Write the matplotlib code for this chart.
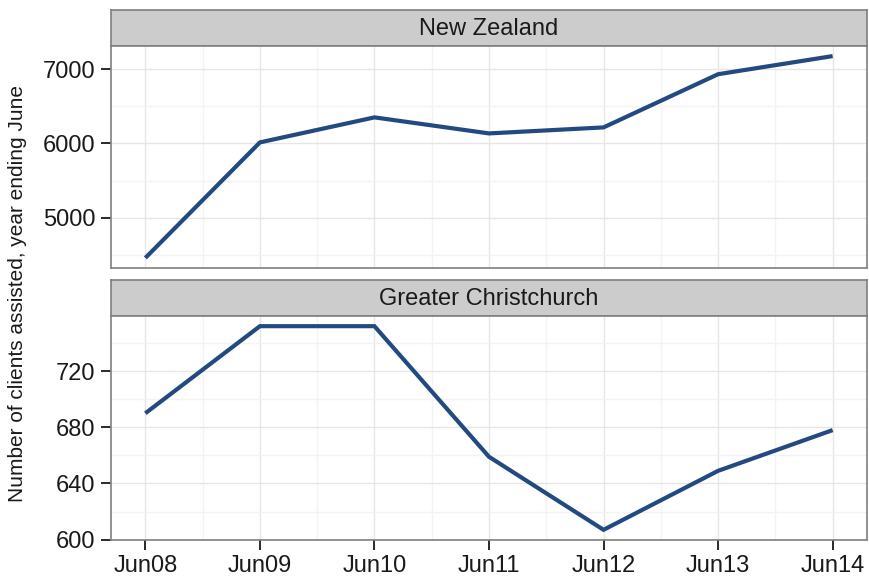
import matplotlib
matplotlib.use("Agg")
import matplotlib.pyplot as plt
from matplotlib.ticker import FixedLocator

plt.rcParams['font.family'] = ['Liberation Sans', 'DejaVu Sans']

# Year ending June
periods = ["Jun08", "Jun09", "Jun10", "Jun11", "Jun12", "Jun13", "Jun14"]
nz_clients = [4459, 6014, 6351, 6135, 6216, 6932, 7176]
chch_clients = [690, 752, 752, 659, 607, 649, 678]

nz_ticks = [5000, 6000, 7000]
nz_minor = [4500, 5500, 6500]
chch_ticks = [600, 640, 680, 720]
chch_minor = [620, 660, 700, 740]

LINE = "#234A80"
BORDER = "#7F7F7F"
STRIP = "#CCCCCC"
TEXT = "#1A1A1A"

W, H = 870, 583
fig = plt.figure(figsize=(W / 100, H / 100), dpi=100)


def frac(x0, y0, x1, y1):
    return [x0 / W, 1 - y1 / H, (x1 - x0) / W, (y1 - y0) / H]


def strip(box, label):
    s = fig.add_axes(frac(*box))
    s.set_facecolor(STRIP)
    s.set_xticks([])
    s.set_yticks([])
    for sp in s.spines.values():
        sp.set_color(BORDER)
        sp.set_linewidth(1.2)
    s.text(0.5, 0.47, label, ha="center", va="center", fontsize=17,
           color=TEXT, transform=s.transAxes)


def panel(box, values, ticks, minor, show_x):
    ax = fig.add_axes(frac(*box))
    x = list(range(len(periods)))
    ax.plot(x, values, color=LINE, lw=3.0, solid_capstyle="butt",
            solid_joinstyle="miter", zorder=3)
    lo, hi = min(values), max(values)
    pad = (hi - lo) * 0.05
    ax.set_ylim(lo - pad, hi + pad)
    ax.set_xlim(-0.3, len(periods) - 1 + 0.3)
    ax.yaxis.set_major_locator(FixedLocator(ticks))
    ax.yaxis.set_minor_locator(FixedLocator(minor))
    ax.xaxis.set_major_locator(FixedLocator(x))
    ax.xaxis.set_minor_locator(FixedLocator([i + 0.5 for i in x[:-1]]))
    ax.grid(True, which="major", color="#E6E6E6", lw=1.0, zorder=0)
    ax.grid(True, which="minor", color="#F3F3F3", lw=1.0, zorder=0)
    ax.set_axisbelow(True)
    ax.set_yticklabels([str(t) for t in ticks])
    ax.tick_params(axis="both", which="major", length=7, width=1.4,
                   color="#2A2A2A", labelsize=17, labelcolor=TEXT, pad=4)
    ax.tick_params(axis="both", which="minor", length=0)
    if show_x:
        ax.set_xticklabels(periods)
    else:
        ax.tick_params(axis="x", which="major", length=0, labelbottom=False)
    for sp in ax.spines.values():
        sp.set_color(BORDER)
        sp.set_linewidth(1.2)
    return ax


strip((111, 10, 867, 46), "New Zealand")
panel((111, 46, 867, 268), nz_clients, nz_ticks, nz_minor, False)
strip((111, 280, 867, 316), "Greater Christchurch")
panel((111, 316, 867, 540), chch_clients, chch_ticks, chch_minor, True)

fig.text(18 / W, 1 - 294 / H, "Number of clients assisted, year ending June",
         rotation=90, ha="center", va="center", fontsize=15, color=TEXT)

fig.savefig("out.png", dpi=100, facecolor="white")
